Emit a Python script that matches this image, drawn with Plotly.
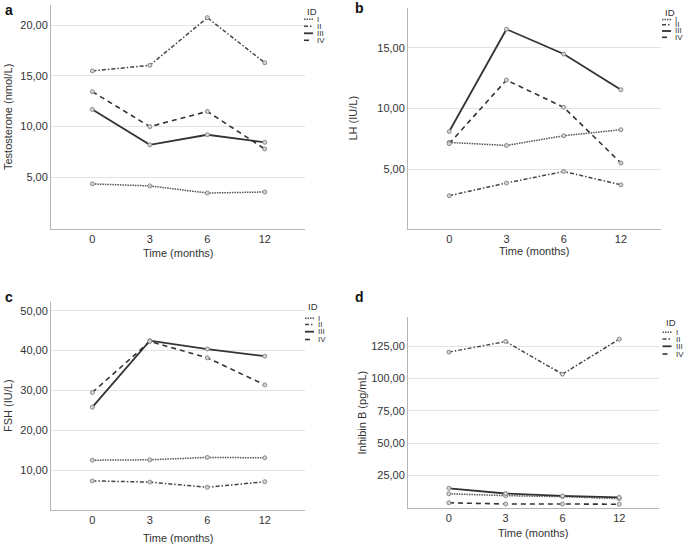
import plotly.graph_objects as go
from plotly.subplots import make_subplots

# ## data
months = ["0", "3", "6", "12"]
ids = ["I", "II", "III", "IV"]

testo_I = [4.35, 4.15, 3.45, 3.55]
testo_II = [15.5, 16.05, 20.75, 16.3]
testo_III = [11.7, 8.2, 9.2, 8.45]
testo_IV = [13.45, 10.0, 11.5, 7.8]

lh_I = [7.2, 6.95, 7.75, 8.25]
lh_II = [2.8, 3.85, 4.8, 3.7]
lh_III = [8.1, 16.55, 14.5, 11.55]
lh_IV = [7.1, 12.35, 10.1, 5.5]

fsh_I = [12.5, 12.6, 13.2, 13.1]
fsh_II = [7.3, 7.0, 5.7, 7.1]
fsh_III = [25.8, 42.5, 40.4, 38.6]
fsh_IV = [29.5, 42.3, 38.2, 31.4]

inhb_I = [11.0, 9.5, 8.8, 7.2]
inhb_II = [120.3, 128.5, 103.3, 130.3]
inhb_III = [15.2, 11.2, 9.3, 8.2]
inhb_IV = [4.0, 3.1, 3.1, 2.9]

W, H = 685, 547
FONT = "Liberation Sans, Arial, sans-serif"

# line style per ID
styles = {
    "I": dict(color="#555555", width=1.5, dash="1.5px,1px"),
    "II": dict(color="#444444", width=1.5, dash="4px,2px,1.5px,2px"),
    "III": dict(color="#333333", width=1.8, dash="solid"),
    "IV": dict(color="#333333", width=1.6, dash="5px,4px"),
}

panels = [
    # series, ylabel, tickvals, yrange, x pixel box, y pixel box
    dict(data=[testo_I, testo_II, testo_III, testo_IV], ytitle="Testosterone (nmol/L)",
         ticks=[5, 10, 15, 20], yrange=[-0.1, 22.0], px=(51, 305), py=(5, 229),
         letter="a", letter_xy=(3, 10), ytitle_x=8, xtitle_y=253,
         leg=(304, 11, [19.3, 26.3, 33.3, 40.3])),
    dict(data=[lh_I, lh_II, lh_III, lh_IV], ytitle="LH (IU/L)",
         ticks=[5, 10, 15], yrange=[0.05, 18.3], px=(408, 661), py=(8, 229),
         letter="b", letter_xy=(353, 8), ytitle_x=352, xtitle_y=250.5,
         leg=(662, 12.7, [19.5, 24.8, 31, 37.3])),
    dict(data=[fsh_I, fsh_II, fsh_III, fsh_IV], ytitle="FSH (IU/L)",
         ticks=[10, 20, 30, 40, 50], yrange=[0, 52.2], px=(51, 305), py=(302, 510),
         letter="c", letter_xy=(3, 297), ytitle_x=8, xtitle_y=538,
         leg=(305, 306, [318.3, 324.5, 331.7, 339.5])),
    dict(data=[inhb_I, inhb_II, inhb_III, inhb_IV], ytitle="Inhibin B (pg/mL)",
         ticks=[25, 50, 75, 100, 125], yrange=[0, 147.4], px=(408, 659), py=(317, 508),
         letter="d", letter_xy=(353, 297), ytitle_x=361, xtitle_y=533,
         leg=(662.5, 322.7, [332.3, 339, 346.3, 354])),
]

fig = make_subplots(rows=2, cols=2)

shapes = []
annotations = []

for k, p in enumerate(panels):
    r, c = k // 2 + 1, k % 2 + 1
    for name, vals in zip(ids, p["data"]):
        fig.add_trace(go.Scatter(x=months, y=vals, mode="lines+markers", name=name,
                                 line=styles[name], showlegend=False,
                                 marker=dict(size=4, color="#d4d4d4",
                                             line=dict(color="#8a8a8a", width=1))),
                      row=r, col=c)

    x0, x1 = p["px"]
    y0, y1 = p["py"]
    fig.update_xaxes(type="category", range=[-0.72, 3.7], domain=[x0 / W, x1 / W],
                     showline=True, linecolor="#b5b5b5", linewidth=1, showgrid=False,
                     ticks="", tickfont=dict(size=11, color="#333333", family=FONT),
                     row=r, col=c)
    fig.update_yaxes(range=p["yrange"], domain=[1 - y1 / H, 1 - y0 / H], tickvals=p["ticks"],
                     tickformat=".2f", showline=True, linecolor="#b5b5b5", linewidth=1,
                     showgrid=True, gridcolor="#e3e3e3", gridwidth=1, zeroline=False,
                     ticks="", tickfont=dict(size=11, color="#333333", family=FONT),
                     row=r, col=c)

    # axis titles
    annotations.append(dict(text=p["ytitle"], x=p["ytitle_x"] / W, y=1 - (y0 + y1) / 2 / H,
                            xref="paper", yref="paper", textangle=-90, showarrow=False,
                            xanchor="center", yanchor="middle",
                            font=dict(size=11, color="#333333", family=FONT)))
    annotations.append(dict(text="Time (months)", x=(x0 + x1) / 2 / W, y=1 - p["xtitle_y"] / H,
                            xref="paper", yref="paper", showarrow=False,
                            xanchor="center", yanchor="middle",
                            font=dict(size=11, color="#333333", family=FONT)))
    # panel letter
    lx, ly = p["letter_xy"]
    annotations.append(dict(text="<b>" + p["letter"] + "</b>", x=lx / W, y=1 - ly / H,
                            xref="paper", yref="paper", showarrow=False,
                            xanchor="left", yanchor="middle",
                            font=dict(size=14, color="#111111", family=FONT)))

    # small legend drawn by hand (plotly legend rows are too tall)
    gx, gy, rows = p["leg"]
    annotations.append(dict(text="ID", x=(gx + 1) / W, y=1 - gy / H, xref="paper", yref="paper",
                            showarrow=False, xanchor="left", yanchor="middle",
                            font=dict(size=9.5, color="#333333", family=FONT)))
    for name, ry in zip(ids, rows):
        st = styles[name]
        shapes.append(dict(type="line", xref="paper", yref="paper",
                           x0=gx / W, x1=(gx + 9) / W, y0=1 - ry / H, y1=1 - ry / H,
                           line=dict(color=st["color"], width=st["width"], dash=st["dash"])))
        annotations.append(dict(text=name, x=(gx + 11) / W, y=1 - ry / H, xref="paper",
                                yref="paper", showarrow=False, xanchor="left", yanchor="middle",
                                font=dict(size=8, color="#333333", family=FONT)))

fig.update_layout(width=W, height=H, margin=dict(l=0, r=0, t=0, b=0),
                  paper_bgcolor="white", plot_bgcolor="white", separators=",.",
                  font=dict(family=FONT, color="#333333"),
                  shapes=shapes, annotations=annotations)

# page body has a default 8px margin, drop it so the figure sits at the window corner
fig.write_html("out.html", config={"displayModeBar": False},
               post_script="document.body.style.margin='0px';")
